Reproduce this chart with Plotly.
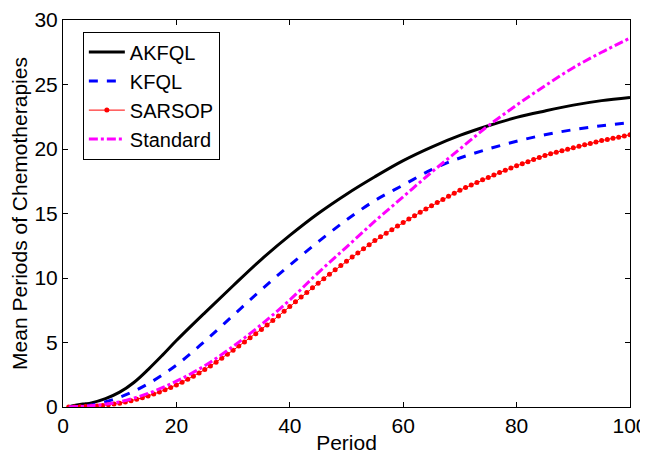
import plotly.graph_objects as go

# values
periods_coarse = [1, 5, 10, 15, 20, 25, 30, 35, 40, 45, 50, 55, 60, 65, 70, 75, 80, 85, 90, 95, 100]
akfql_periods = [1, 2, 3, 4, 5, 7.5, 10, 12.5, 15, 17.5, 20, 25, 30, 35, 40, 45, 50, 55, 60, 65, 70,
                 75, 80, 85, 90, 95, 100]
akfql = [0.0, 0.12, 0.2, 0.25, 0.32, 0.65, 1.15, 1.9, 2.9, 4.0, 5.15, 7.3, 9.4, 11.45, 13.3, 15.0,
         16.5, 17.85, 19.1, 20.15, 21.05, 21.8, 22.45, 22.95, 23.4, 23.75, 24.0]
kfql = [0.0, 0.15, 0.75, 1.8, 3.25, 5.1, 7.1, 9.1, 11.0, 12.8, 14.5, 16.0, 17.2, 18.4, 19.3, 20.0,
        20.6, 21.1, 21.5, 21.8, 22.05]
standard = [0.0, 0.1, 0.4, 1.05, 2.0, 3.2, 4.7, 6.4, 8.3, 10.4, 12.4, 14.4, 16.3, 18.2, 20.0, 21.8,
            23.4, 24.9, 26.3, 27.5, 28.6]

sarsop_periods = list(range(1, 101))
sarsop = [
    0.00, 0.00, 0.01, 0.03, 0.05, 0.08, 0.12, 0.17, 0.23, 0.30,
    0.39, 0.49, 0.60, 0.72, 0.85, 1.00, 1.16, 1.33, 1.51, 1.70,
    1.92, 2.15, 2.39, 2.64, 2.90, 3.18, 3.47, 3.77, 4.08, 4.40,
    4.72, 5.04, 5.36, 5.68, 6.00, 6.35, 6.70, 7.06, 7.43, 7.80,
    8.16, 8.52, 8.88, 9.24, 9.60, 9.95, 10.29, 10.63, 10.97, 11.30,
    11.62, 11.94, 12.26, 12.58, 12.90, 13.19, 13.47, 13.75, 14.03, 14.30,
    14.57, 14.83, 15.09, 15.35, 15.60, 15.85, 16.09, 16.33, 16.57, 16.80,
    17.01, 17.21, 17.41, 17.61, 17.80, 17.99, 18.17, 18.35, 18.53, 18.70,
    18.86, 19.02, 19.18, 19.34, 19.50, 19.63, 19.75, 19.87, 19.99, 20.10,
    20.21, 20.32, 20.43, 20.54, 20.65, 20.74, 20.83, 20.92, 21.01, 21.10,
]

x_ticks = [0, 20, 40, 60, 80, 100]
y_ticks = [0, 5, 10, 15, 20, 25, 30]

FONT = "Liberation Sans, Arial, sans-serif"
TEXT = dict(family=FONT, size=21, color="black")

fig = go.Figure()
fig.add_trace(go.Scatter(
    x=akfql_periods, y=akfql, name="AKFQL", mode="lines",
    line=dict(color="black", width=3, shape="spline"),
))
fig.add_trace(go.Scatter(
    x=periods_coarse, y=kfql, name="KFQL", mode="lines",
    line=dict(color="#0000ff", width=3, dash="dash", shape="spline"),
))
fig.add_trace(go.Scatter(
    x=sarsop_periods, y=sarsop, name="SARSOP", mode="lines+markers",
    line=dict(color="#ff0000", width=1),
    marker=dict(color="#ff0000", size=5),
))
fig.add_trace(go.Scatter(
    x=periods_coarse, y=standard, name="Standard", mode="lines",
    line=dict(color="#ff00ff", width=3, dash="dashdot", shape="spline"),
))

axis_common = dict(
    showgrid=False, zeroline=False, showline=True, linecolor="black", linewidth=1,
    mirror="ticks", ticks="inside", ticklen=5, tickcolor="black",
    tickfont=TEXT, automargin=False,
)
fig.update_xaxes(
    range=[0, 100], tickvals=x_ticks,
    title=dict(text="Period", standoff=0, font=TEXT), **axis_common,
)
fig.update_yaxes(
    range=[0, 30], tickvals=y_ticks,
    title=dict(text="Mean Periods of Chemotherapies", standoff=2, font=TEXT), **axis_common,
)
# the page puts the figure 8px in from the top-left corner, so the size and
# margins are chosen to land the axes where the reference has them
fig.update_layout(
    width=640, height=446,
    margin=dict(l=55, r=18, t=12, b=47),
    paper_bgcolor="white", plot_bgcolor="white",
    font=TEXT,
    showlegend=True,
    legend=dict(
        x=0.035, y=0.97, xanchor="left", yanchor="top",
        bgcolor="white", bordercolor="black", borderwidth=1,
        font=dict(family=FONT, size=20, color="black"),
        tracegroupgap=0, itemwidth=36,
    ),
)

fig.write_html("out.html")
